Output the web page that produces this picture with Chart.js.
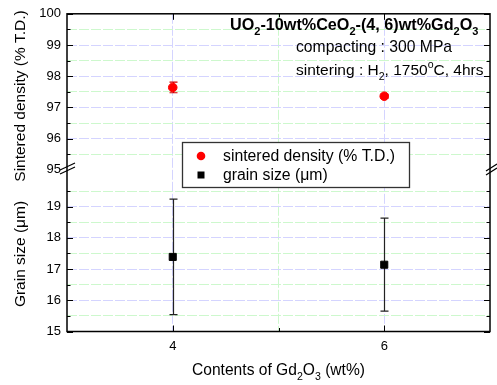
<!DOCTYPE html>
<html>
<head>
<meta charset="utf-8">
<script src="https://cdn.jsdelivr.net/npm/chart.js@4.4.0/dist/chart.umd.min.js"></script>
<style>
body { margin: 0; background: #fff; }
</style>
</head>
<body>
<canvas id="chart" width="497" height="385"></canvas>
<script>
// data
const gdContent = [4, 6];                 // wt% Gd2O3
const density = [97.64, 97.36];           // % T.D.
const densityErr = [0.17, 0.06];
const grainSize = [17.39, 17.14];         // um
const grainErr = [1.85, 1.49];
const xTickLabels = [4, 6];

const FONT = '"Liberation Sans", Arial, sans-serif';
const majorGrid = 'rgb(212,212,255)';
const minorGrid = 'rgb(205,248,205)';
const none = 'rgba(0,0,0,0)';

function yGridColor(ctx, hidden) {
    const v = ctx.tick ? ctx.tick.value : null;
    if (v === null || hidden.includes(v)) return none;
    return Number.isInteger(v) ? majorGrid : minorGrid;
}

// draw text with sub/superscript parts: [text, 'sub' | 'sup' | null]
function drawRich(ctx, parts, x, y, size, bold, align) {
    const f = s => (bold ? 'bold ' : '') + s + 'px ' + FONT;
    let w = 0;
    parts.forEach(p => {
        ctx.font = f(p[1] ? size * 0.68 : size);
        w += ctx.measureText(p[0]).width;
    });
    let cx = align === 'center' ? x - w / 2 : x;
    ctx.textAlign = 'left';
    ctx.textBaseline = 'alphabetic';
    parts.forEach(p => {
        const s = p[1] ? size * 0.68 : size;
        ctx.font = f(s);
        const dy = p[1] === 'sub' ? size * 0.3 : (p[1] === 'sup' ? -size * 0.45 : 0);
        ctx.fillText(p[0], cx, y + dy);
        cx += ctx.measureText(p[0]).width;
    });
}

const errorBars = {
    id: 'errorBars',
    beforeDatasetsDraw(chart) {
        const { ctx, scales } = chart;
        ctx.save();
        chart.data.datasets.forEach(ds => {
            const ys = scales[ds.yAxisID];
            ds.data.forEach((p, i) => {
                const px = Math.round(scales.x.getPixelForValue(p.x)) + 0.5;
                const top = ys.getPixelForValue(p.y + ds.errors[i]);
                const bot = ys.getPixelForValue(p.y - ds.errors[i]);
                ctx.strokeStyle = ds.errColor;
                ctx.lineWidth = 1.2;
                ctx.beginPath();
                ctx.moveTo(px, top); ctx.lineTo(px, bot);
                ctx.moveTo(px - 4, top); ctx.lineTo(px + 4, top);
                ctx.moveTo(px - 4, bot); ctx.lineTo(px + 4, bot);
                ctx.stroke();
            });
        });
        ctx.restore();
    }
};

const decorations = {
    id: 'decorations',
    afterDraw(chart) {
        const { ctx, chartArea: a, scales } = chart;
        ctx.save();
        ctx.strokeStyle = '#000';
        ctx.lineWidth = 1.5;
        ctx.strokeRect(a.left, a.top, a.right - a.left, a.bottom - a.top);

        // inward ticks
        ctx.lineWidth = 1;
        ctx.beginPath();
        ['yD', 'yG'].forEach(id => {
            scales[id].ticks.forEach(t => {
                if (id === 'yD' && t.value === 95) return;
                const py = Math.round(scales[id].getPixelForValue(t.value)) + 0.5;
                const len = Number.isInteger(t.value) ? 6 : 3.5;
                ctx.moveTo(a.left, py); ctx.lineTo(a.left + len, py);
                ctx.moveTo(a.right, py); ctx.lineTo(a.right - len, py);
            });
        });
        [4, 5, 6].forEach(v => {
            const px = Math.round(scales.x.getPixelForValue(v)) + 0.5;
            const len = v === 5 ? 3.5 : 6;
            ctx.moveTo(px, a.bottom); ctx.lineTo(px, a.bottom - len);
            ctx.moveTo(px, a.top); ctx.lineTo(px, a.top + len);
        });
        ctx.stroke();

        // axis break marks
        const brk = (x0, x1, y0) => {
            ctx.lineWidth = 1.2;
            ctx.beginPath();
            ctx.moveTo(x0, y0 + 4); ctx.lineTo(x1, y0 - 3);
            ctx.moveTo(x0, y0 + 8); ctx.lineTo(x1, y0 + 1);
            ctx.stroke();
        };
        brk(60, 75, 166);
        brk(486, 497, 167);

        // legend box
        ctx.fillStyle = '#fff';
        ctx.fillRect(182.5, 142.5, 227, 45);
        ctx.strokeStyle = '#333';
        ctx.lineWidth = 1.3;
        ctx.strokeRect(182.5, 142.5, 227, 45);
        ctx.fillStyle = '#ff0000';
        ctx.beginPath(); ctx.arc(201, 156, 4.3, 0, Math.PI * 2); ctx.fill();
        ctx.fillStyle = '#000';
        ctx.fillRect(197.5, 171.5, 7, 7);
        ctx.font = '15.8px ' + FONT;
        ctx.textBaseline = 'middle';
        ctx.textAlign = 'left';
        ctx.fillText(chart.data.datasets[0].label, 223, 157);
        ctx.fillText(chart.data.datasets[1].label, 223, 176);

        // annotation text
        ctx.fillStyle = '#000';
        drawRich(ctx, [['UO', null], ['2', 'sub'], ['-10wt%CeO', null], ['2', 'sub'],
            ['-(4, 6)wt%Gd', null], ['2', 'sub'], ['O', null], ['3', 'sub']], 230, 30, 16.2, true, 'left');
        drawRich(ctx, [['compacting : 300 MPa', null]], 296, 52, 15.7, false, 'left');
        drawRich(ctx, [['sintering : H', null], ['2', 'sub'], [', 1750', null], ['o', 'sup'],
            ['C, 4hrs', null]], 296, 75, 15.5, false, 'left');

        // axis titles
        drawRich(ctx, [['Contents of Gd', null], ['2', 'sub'], ['O', null], ['3', 'sub'],
            [' (wt%)', null]], (a.left + a.right) / 2, 375, 15.6, false, 'center');
        ctx.save();
        ctx.translate(25, 96);
        ctx.rotate(-Math.PI / 2);
        drawRich(ctx, [['Sintered density (% T.D.)', null]], 0, 0, 15.5, false, 'center');
        ctx.restore();
        ctx.save();
        ctx.translate(25, 254);
        ctx.rotate(-Math.PI / 2);
        drawRich(ctx, [['Grain size (μm)', null]], 0, 0, 15.5, false, 'center');
        ctx.restore();
        ctx.restore();
    }
};

const tickFont = { family: FONT, size: 13 };

new Chart(document.getElementById('chart'), {
    type: 'scatter',
    data: {
        datasets: [{
            label: 'sintered density (% T.D.)',
            data: gdContent.map((x, i) => ({ x: x, y: density[i] })),
            yAxisID: 'yD',
            pointStyle: 'circle',
            pointRadius: 4.3,
            backgroundColor: '#ff0000',
            borderColor: '#ff0000',
            errors: densityErr,
            errColor: '#d00000'
        }, {
            label: 'grain size (μm)',
            data: gdContent.map((x, i) => ({ x: x, y: grainSize[i] })),
            yAxisID: 'yG',
            pointStyle: 'rect',
            pointRadius: 5,
            backgroundColor: '#000',
            borderColor: '#000',
            errors: grainErr,
            errColor: '#222'
        }]
    },
    options: {
        responsive: false,
        animation: false,
        layout: { padding: { top: 9, right: 5, left: 0, bottom: 0 } },
        plugins: { legend: { display: false }, tooltip: { enabled: false } },
        scales: {
            x: {
                type: 'linear',
                min: 3,
                max: 7,
                ticks: {
                    stepSize: 1,
                    autoSkip: false,
                    maxRotation: 0,
                    padding: 7,
                    font: tickFont,
                    color: '#000',
                    callback: v => xTickLabels.includes(v) ? v : ''
                },
                grid: {
                    drawTicks: false,
                    color: c => {
                        const v = c.tick ? c.tick.value : null;
                        if (v === 4 || v === 6) return majorGrid;
                        if (v === 5) return minorGrid;
                        return none;
                    }
                },
                border: { display: false, dash: [10, 2] },
                afterFit: s => { s.height = 53.5; }
            },
            yG: {
                type: 'linear',
                position: 'left',
                stack: 'y',
                stackWeight: 5.18,
                min: 15,
                max: 20.18,
                ticks: {
                    stepSize: 0.5,
                    autoSkip: false,
                    padding: 6,
                    font: tickFont,
                    color: '#000',
                    callback: v => Number.isInteger(v) ? v : ''
                },
                afterBuildTicks: s => { s.ticks = s.ticks.filter(t => t.value <= 19.5); },
                grid: { drawTicks: false, color: c => yGridColor(c, [15]) },
                border: { display: false, dash: [10, 2] },
                afterFit: s => { s.width = 67; }
            },
            yD: {
                type: 'linear',
                position: 'left',
                stack: 'y',
                stackWeight: 5,
                min: 95,
                max: 100,
                ticks: {
                    stepSize: 0.5,
                    autoSkip: false,
                    padding: 6,
                    font: tickFont,
                    color: '#000',
                    callback: v => Number.isInteger(v) ? v : ''
                },
                grid: { drawTicks: false, color: c => yGridColor(c, [95, 100]) },
                border: { display: false, dash: [10, 2] },
                afterFit: s => { s.width = 67; }
            }
        }
    },
    plugins: [errorBars, decorations]
});
</script>
</body>
</html>
